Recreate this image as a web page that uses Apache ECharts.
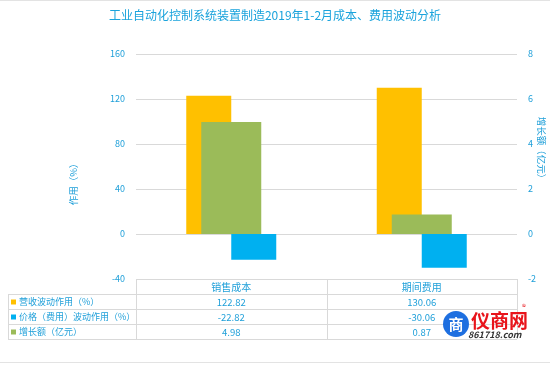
<!DOCTYPE html>
<html><head><meta charset="utf-8">
<script src="https://cdn.jsdelivr.net/npm/echarts/dist/echarts.min.js"></script>
<style>html,body{margin:0;padding:0;background:#fff}#c{width:550px;height:365px}</style>
</head><body><div id="c"></div>
<script>
const categories = ['销售成本', '期间费用'];
const revenueEffect = [122.82, 130.06];
const priceEffect = [-22.82, -30.06];
const growthAmount = [4.98, 0.87];
const seriesNames = ['营收波动作用（%）', '价格（费用）波动作用（%）', '增长额（亿元）'];
const seriesColors = ['#FFC000', '#00B0F0', '#9BBB59'];
const tableValues = [revenueEffect, priceEffect, growthAmount];
const leftAxisMin = -40, leftAxisMax = 160, leftAxisStep = 40;
const rightAxisMin = -2, rightAxisMax = 8, rightAxisStep = 2;
const titleText = '工业自动化控制系统装置制造2019年1-2月成本、费用波动分析';
const leftAxisName = '作用（%）';
const rightAxisName = '增长额（亿元）';

const FONT = '"Noto Sans CJK SC", "Noto Sans", sans-serif';
const TXT = '#1E9FD9';
const chart = echarts.init(document.getElementById('c'), null, {renderer: 'canvas'});

const option = {
  backgroundColor: '#fff',
  animation: false,
  textStyle: {fontFamily: FONT},
  title: {text: titleText, left: 'center', top: 4,
    textStyle: {color: '#1AA3DC', fontSize: 12, fontWeight: 'normal', fontFamily: FONT}},
  grid: {left: 136, right: 33, top: 54, bottom: 86},
  xAxis: [
    {type: 'category', data: categories, axisLine: {show: false}, axisTick: {show: false},
      axisLabel: {color: TXT, fontSize: 10, margin: 3, fontFamily: FONT}},
    {type: 'category', data: categories, show: false}
  ],
  yAxis: [
    {type: 'value', min: leftAxisMin, max: leftAxisMax, interval: leftAxisStep,
      axisLine: {show: false}, axisTick: {show: false},
      axisLabel: {color: TXT, fontSize: 9, margin: 11, fontFamily: FONT},
      splitLine: {lineStyle: {color: '#D9D9D9', width: 1}}},
    {type: 'value', min: rightAxisMin, max: rightAxisMax, interval: rightAxisStep, position: 'right',
      axisLine: {show: false}, axisTick: {show: false},
      axisLabel: {color: TXT, fontSize: 9, margin: 11, fontFamily: FONT},
      splitLine: {show: false}}
  ],
  series: [
    {name: seriesNames[0], type: 'bar', xAxisIndex: 0, yAxisIndex: 0, data: revenueEffect,
      barWidth: 45, barGap: '0%', itemStyle: {color: seriesColors[0]}},
    {name: seriesNames[1], type: 'bar', xAxisIndex: 0, yAxisIndex: 0, data: priceEffect,
      barWidth: 45, barGap: '0%', itemStyle: {color: seriesColors[1]}},
    {name: seriesNames[2], type: 'bar', xAxisIndex: 1, yAxisIndex: 1, data: growthAmount,
      barWidth: 60, itemStyle: {color: seriesColors[2]}}
  ]
};
chart.setOption(option);

// Data table below the plot, positioned from the axes
const gridRect = chart.getModel().getComponent('grid', 0).coordinateSystem.getRect();
const xL = gridRect.x, xR = gridRect.x + gridRect.width;
const yTop = gridRect.y + gridRect.height;
const rowH = 15;
const tableLeft = 8;
const lineColor = '#D9D9D9';
const els = [];
const hline = (x1, x2, y) => els.push({type: 'line', shape: {x1, y1: y + 0.5, x2, y2: y + 0.5}, style: {stroke: lineColor, lineWidth: 1}, silent: true});
const vline = (x, y1, y2) => els.push({type: 'line', shape: {x1: x + 0.5, y1, x2: x + 0.5, y2}, style: {stroke: lineColor, lineWidth: 1}, silent: true});
hline(xL, xR, yTop);
for (let r = 1; r <= tableValues.length + 1; r++) hline(tableLeft, xR, yTop + r * rowH);
vline(tableLeft, yTop + rowH, yTop + rowH * (tableValues.length + 1));
const bounds = [xL];
categories.forEach((c, i) => {
  const cx = chart.convertToPixel({xAxisIndex: 0}, c);
  bounds.push(i < categories.length - 1 ? (cx + chart.convertToPixel({xAxisIndex: 0}, categories[i + 1])) / 2 : xR);
});
bounds.forEach(b => vline(Math.round(b), yTop, yTop + rowH * (tableValues.length + 1)));
tableValues.forEach((vals, r) => {
  const cy = yTop + rowH * (r + 1) + rowH / 2 + 0.5;
  els.push({type: 'rect', shape: {x: 11, y: cy - 2.5, width: 5, height: 5}, style: {fill: seriesColors[r]}, silent: true});
  els.push({type: 'text', x: 19, y: cy, style: {text: seriesNames[r], fill: TXT, font: '9px ' + FONT, textVerticalAlign: 'middle', textAlign: 'left'}, silent: true});
  vals.forEach((v, i) => {
    const cx = chart.convertToPixel({xAxisIndex: 0}, categories[i]);
    els.push({type: 'text', x: cx, y: cy, style: {text: v.toFixed(2), fill: TXT, font: '9.5px ' + FONT, textVerticalAlign: 'middle', textAlign: 'center'}, silent: true});
  });
});
// Axis titles
els.push({type: 'text', x: 73, y: 182, rotation: Math.PI / 2, style: {text: leftAxisName, fill: TXT, font: '9.5px ' + FONT, textAlign: 'center', textVerticalAlign: 'middle'}, silent: true});
els.push({type: 'text', x: 542, y: 150, rotation: -Math.PI / 2, style: {text: rightAxisName, fill: TXT, font: '9.5px ' + FONT, textAlign: 'center', textVerticalAlign: 'middle'}, silent: true});
// Frame
els.push({type: 'line', shape: {x1: 0, y1: 0.5, x2: 550, y2: 0.5}, style: {stroke: '#E3E3E3', lineWidth: 1}, silent: true});
els.push({type: 'line', shape: {x1: 0, y1: 362.5, x2: 550, y2: 362.5}, style: {stroke: '#E3E3E3', lineWidth: 1}, silent: true});
// Watermark
els.push({type: 'circle', shape: {cx: 456, cy: 324, r: 13}, style: {fill: '#1E6FE0'}, silent: true});
els.push({type: 'text', x: 456, y: 324, style: {text: '商', fill: '#fff', font: 'bold 15px ' + FONT, textAlign: 'center', textVerticalAlign: 'middle'}, silent: true});
els.push({type: 'text', x: 471, y: 321, style: {text: '仪商网', fill: '#E8141B', font: 'bold 19px ' + FONT, textAlign: 'left', textVerticalAlign: 'middle'}, silent: true});
els.push({type: 'text', x: 524, y: 307, style: {text: '®', fill: '#E8141B', font: '8px ' + FONT, textAlign: 'center', textVerticalAlign: 'middle'}, silent: true});
els.push({type: 'text', x: 468, y: 335, style: {text: '861718.com', fill: '#333', font: 'italic bold 9px ' + FONT, textAlign: 'left', textVerticalAlign: 'middle'}, silent: true});
chart.setOption({graphic: {elements: els}});
</script></body></html>
